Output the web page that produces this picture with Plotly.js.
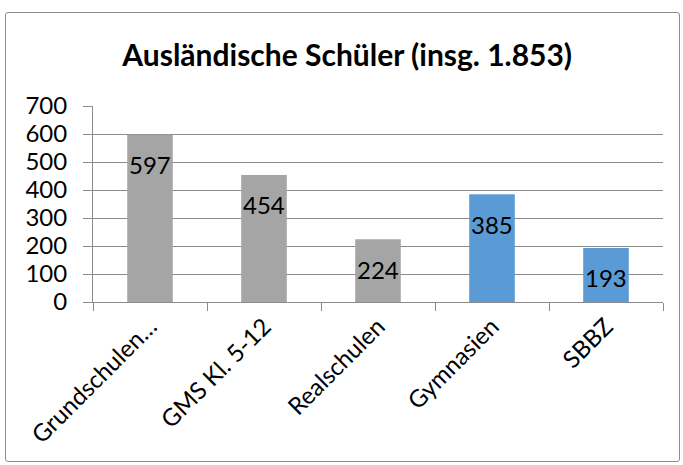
<!DOCTYPE html>
<html>
<head>
<meta charset="utf-8">
<script src="https://cdn.plot.ly/plotly-3.0.1.min.js"></script>
<style>
  body { margin: 0; background: #fff; }
  #graph {
    position: absolute;
    left: 5px;
    top: 12px;
    width: 673px;
    height: 448px;
    border: 1px solid #8c8c8c;
    border-radius: 3px;
  }
</style>
</head>
<body>
<div id="graph"></div>
<script>
// Daten aus dem Diagramm
const categories = ["Grundschulen…", "GMS Kl. 5-12", "Realschulen", "Gymnasien", "SBBZ"];
const values = [597, 454, 224, 385, 193];
const yTicks = [0, 100, 200, 300, 400, 500, 600, 700];

const grayColor = "#a5a5a5";
const blueColor = "#5b9bd5";
const barColors = [grayColor, grayColor, grayColor, blueColor, blueColor];

const labelFont = { family: "Lato, 'Open Sans', sans-serif", size: 24, color: "#000" };

let data = [
  {
    type: "bar",
    x: categories,
    y: values,
    marker: { color: barColors, line: { width: 0 } },
    hoverinfo: "x+y",
  },
];

let valueLabels = categories.map((c, i) => ({
  x: c,
  y: values[i],
  xref: "x",
  yref: "y",
  text: String(values[i]),
  showarrow: false,
  yanchor: "middle",
  yshift: -30,
  font: labelFont,
}));

let layout = {
  width: 673,
  height: 448,
  paper_bgcolor: "rgba(0,0,0,0)",
  plot_bgcolor: "rgba(0,0,0,0)",
  showlegend: false,
  bargap: 0.6,
  margin: { l: 87, r: 16, t: 93, b: 159 },
  title: {
    text: "<b>Ausländische Schüler (insg. 1.853)</b>",
    font: { family: "Lato, 'Open Sans', sans-serif", size: 30, color: "#000" },
    xref: "container",
    yref: "container",
    x: 0.507,
    y: 0.905,
    xanchor: "center",
    yanchor: "middle",
  },
  xaxis: {
    type: "category",
    tickangle: -45,
    tickfont: labelFont,
    ticks: "outside",
    tickson: "boundaries",
    ticklen: 8,
    tickcolor: "#8c8c8c",
    showline: true,
    linecolor: "#8c8c8c",
    showgrid: false,
    fixedrange: true,
  },
  yaxis: {
    range: [0, 700],
    tickvals: yTicks,
    ticktext: yTicks.map(String),
    tickfont: labelFont,
    ticks: "outside",
    ticklen: 9,
    tickcolor: "#8c8c8c",
    ticklabelstandoff: 11,
    showline: true,
    linecolor: "#8c8c8c",
    gridcolor: "#8c8c8c",
    zeroline: false,
    fixedrange: true,
  },
  annotations: valueLabels,
};

Plotly.newPlot("graph", data, layout, { displayModeBar: false, staticPlot: true });
</script>
</body>
</html>
